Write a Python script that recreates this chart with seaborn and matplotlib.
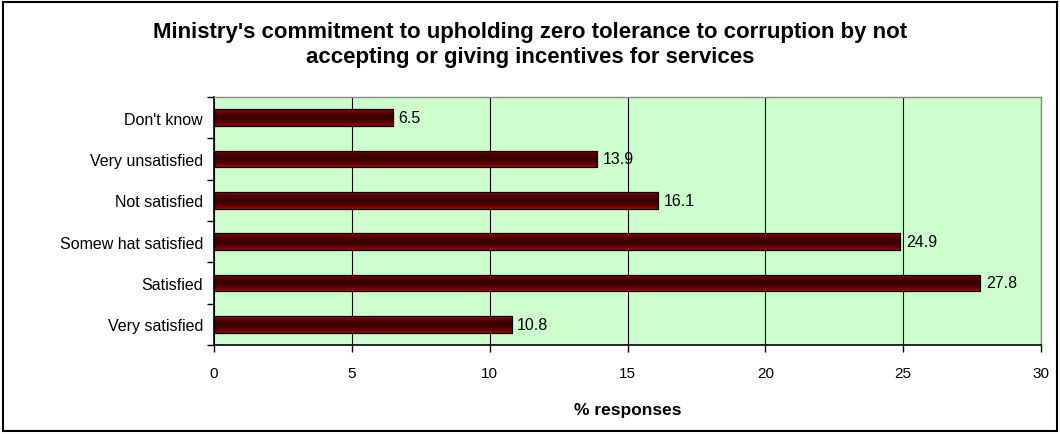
import matplotlib
matplotlib.use("Agg")
import matplotlib.pyplot as plt
import seaborn as sns
import pandas as pd
import numpy as np
from matplotlib.patches import Rectangle
from matplotlib.colors import LinearSegmentedColormap

categories = ["Don't know", "Very unsatisfied", "Not satisfied", "Somew hat satisfied", "Satisfied", "Very satisfied"]
values = [6.5, 13.9, 16.1, 24.9, 27.8, 10.8]
xticks = [0, 5, 10, 15, 20, 25, 30]

sns.set_theme(style="white")
plt.rcParams['font.family'] = ['Liberation Sans', 'DejaVu Sans']
plt.rcParams['text.color'] = 'black'
plt.rcParams['xtick.color'] = 'black'
plt.rcParams['ytick.color'] = 'black'
plt.rcParams['axes.labelcolor'] = 'black'

fig = plt.figure(figsize=(10.6, 4.35), dpi=100)
ax = fig.add_axes([214/1060, 1 - 346/435, (1041-214)/1060, (346-98)/435])
ax.set_facecolor('#CCFFCC')

df = pd.DataFrame({"cat": categories, "val": values})
sns.barplot(data=df, x="val", y="cat", orient="h", color="#5C0000", width=0.4,
            edgecolor="black", linewidth=0.8, saturation=1, ax=ax, zorder=3)

# gradient shading on bars (dark centre, red edges)
cmap = LinearSegmentedColormap.from_list("barg", ["#9A0000", "#520000", "#360000", "#520000", "#9A0000"])
grad = np.linspace(0, 1, 128).reshape(-1, 1)
for p in list(ax.patches):
    x0, y0 = p.get_x(), p.get_y()
    w, h = p.get_width(), p.get_height()
    im = ax.imshow(grad, cmap=cmap, aspect='auto', extent=(x0, x0 + w, y0 + h, y0),
                   zorder=3.1, interpolation='bilinear')
    im.set_clip_path(p)
    ax.add_patch(Rectangle((x0, y0), w, h, fill=False, edgecolor='black', linewidth=0.8, zorder=3.2))

ax.set_xlim(0, 30)
ax.set_ylim(len(categories) - 0.5, -0.5)
ax.set_xticks(xticks)
ax.set_xticklabels([str(t) for t in xticks], fontsize=11)
ax.tick_params(axis='x', length=5, width=1, direction='out', bottom=True, pad=10)

# y tick marks at category boundaries, labels at category centres
ax.set_yticks(np.arange(len(categories)))
ax.set_yticklabels(categories, fontsize=11.5)
ax.tick_params(axis='y', which='major', length=0, pad=8)
ax.set_yticks(np.arange(len(categories) + 1) - 0.5, minor=True)
ax.tick_params(axis='y', which='minor', length=5, width=1, direction='out', left=True)

ax.grid(axis='x', color='black', linewidth=0.8, zorder=0)
ax.set_axisbelow(True)
ax.set_ylabel("")
ax.set_xlabel("% responses", fontsize=12.5, fontweight='bold', labelpad=16)
for s in ['top', 'right']:
    ax.spines[s].set_color('#888888')
    ax.spines[s].set_linewidth(1.0)
for s in ['left', 'bottom']:
    ax.spines[s].set_color('black')
    ax.spines[s].set_linewidth(1.2)

for i, v in enumerate(values):
    ax.text(v + 0.2, i, f"{v}", va='center', ha='left', fontsize=11.5, zorder=5)

fig.text(0.5, 1 - 45/435, "Ministry's commitment to upholding zero tolerance to corruption by not\naccepting or giving incentives for services",
         ha='center', va='center', fontsize=16, fontweight='bold', linespacing=1.3)

fig.patches.append(Rectangle((3/1060, 3/435), 1 - 6/1060, 1 - 6/435, transform=fig.transFigure,
                             fill=False, edgecolor='black', linewidth=1.5))

fig.savefig("out.png", dpi=100)
